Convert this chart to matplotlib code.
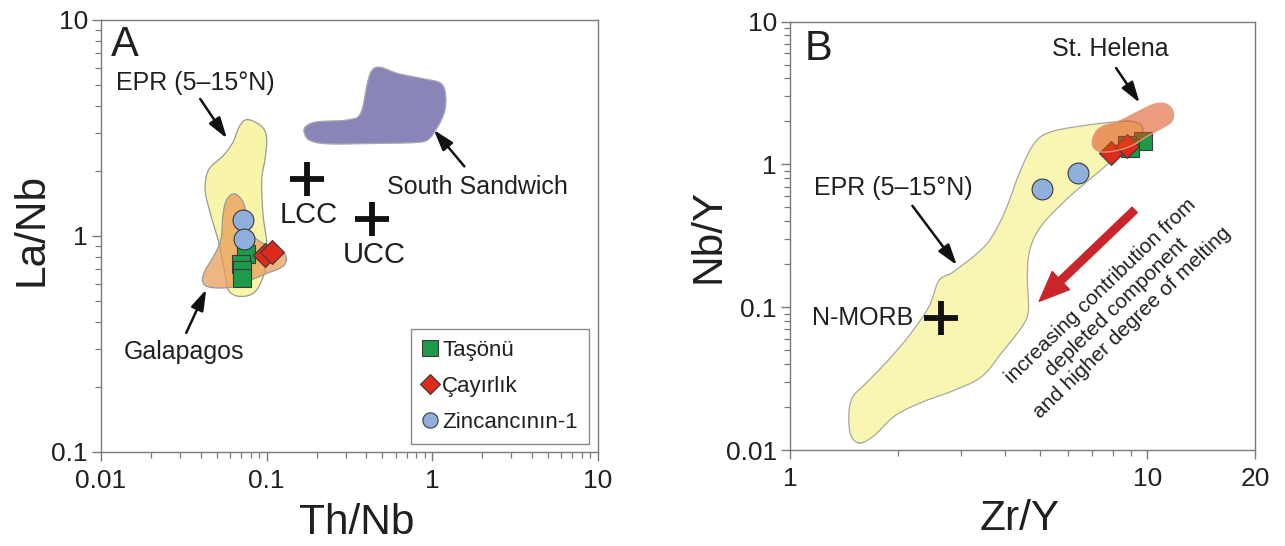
import numpy as np
import matplotlib
matplotlib.use("Agg")
import matplotlib.pyplot as plt
from matplotlib.lines import Line2D
from matplotlib.ticker import FixedLocator, FixedFormatter, NullFormatter

plt.rcParams['font.family'] = ['Liberation Sans', 'DejaVu Sans']

# ---------------- data: panel A (Th/Nb vs La/Nb) ----------------
tasonu_thnb = [0.0747, 0.0703, 0.0709, 0.0709]
tasonu_lanb = [0.826, 0.742, 0.697, 0.641]
cayirlik_thnb = [0.098, 0.108]
cayirlik_lanb = [0.817, 0.845]
zinc_thnb = [0.0716, 0.0733]
zinc_lanb = [1.18, 0.966]

crust_names = ["LCC", "UCC"]
crust_thnb = [0.176, 0.43]
crust_lanb = [1.84, 1.20]

# field outlines as (log10 Th/Nb, log10 La/Nb)
epr_a_log = [(-1.116, 0.539), (-1.030, 0.507), (-1.000, 0.451), (-1.010, 0.355),
             (-1.030, 0.258), (-1.022, 0.098), (-1.000, -0.031), (-1.010, -0.159),
             (-1.067, -0.256), (-1.153, -0.280), (-1.227, -0.256), (-1.252, -0.175),
             (-1.289, -0.031), (-1.338, 0.098), (-1.371, 0.210), (-1.351, 0.306),
             (-1.264, 0.370), (-1.203, 0.435), (-1.165, 0.507)]
galapagos_a_log = [(-1.190, 0.194), (-1.136, 0.146), (-1.111, 0.033), (-1.030, -0.031),
                   (-0.918, -0.063), (-0.881, -0.103), (-0.906, -0.143), (-1.005, -0.175),
                   (-1.128, -0.215), (-1.227, -0.239), (-1.351, -0.236), (-1.388, -0.207),
                   (-1.371, -0.159), (-1.321, -0.095), (-1.276, -0.015), (-1.264, 0.098),
                   (-1.240, 0.170)]
ssandwich_a_log = [(-0.766, 0.506), (-0.695, 0.529), (-0.514, 0.537), (-0.433, 0.568),
                   (-0.393, 0.707), (-0.362, 0.769), (-0.312, 0.781), (-0.211, 0.753),
                   (-0.070, 0.730), (0.051, 0.707), (0.081, 0.645), (0.071, 0.568),
                   (0.021, 0.491), (-0.030, 0.444), (-0.111, 0.432), (-0.312, 0.429),
                   (-0.615, 0.426), (-0.736, 0.441), (-0.772, 0.475)]

# ---------------- data: panel B (Zr/Y vs Nb/Y) ----------------
tasonu_zry = [9.72, 8.74, 8.95]
tasonu_nby = [1.47, 1.37, 1.30]
cayirlik_zry = [7.93, 8.79]
cayirlik_nby = [1.20, 1.35]
zinc_zry = [5.06, 6.40]
zinc_nby = [0.67, 0.875]

nmorb_zry = [2.64]
nmorb_nby = [0.0838]

# field outlines as (log10 Zr/Y, log10 Nb/Y)
epr_b_log = [(0.194, -1.951), (0.169, -1.890), (0.165, -1.731), (0.177, -1.622),
             (0.211, -1.536), (0.268, -1.389), (0.331, -1.206), (0.388, -0.999),
             (0.416, -0.815), (0.456, -0.754), (0.525, -0.620), (0.564, -0.510),
             (0.604, -0.314), (0.644, -0.046), (0.684, 0.150), (0.730, 0.228),
             (0.821, 0.272), (0.901, 0.296), (0.958, 0.301), (0.986, 0.260),
             (0.975, 0.186), (0.924, 0.076), (0.855, -0.070), (0.775, -0.241),
             (0.701, -0.437), (0.670, -0.608), (0.664, -0.803), (0.667, -1.023),
             (0.650, -1.133), (0.593, -1.316), (0.536, -1.487), (0.456, -1.585),
             (0.376, -1.658), (0.296, -1.756), (0.234, -1.902)]
sthelena_b_log = [(0.846, 0.136), (0.853, 0.218), (0.876, 0.269), (0.923, 0.306),
                  (0.979, 0.376), (1.020, 0.423), (1.053, 0.423), (1.072, 0.369),
                  (1.067, 0.299), (1.034, 0.246), (0.997, 0.194), (0.960, 0.136),
                  (0.913, 0.096), (0.867, 0.089)]

TXT = '#231f20'
GREEN = '#1d9a4a'
RED = '#dd2a1e'
BLUE = '#8fb0dc'
EDGE = '#3a3a3a'


def smooth_closed(pts, n=14):
    P = np.asarray(pts, dtype=float)
    N = len(P)
    out = []
    for i in range(N):
        p0, p1, p2, p3 = P[(i - 1) % N], P[i], P[(i + 1) % N], P[(i + 2) % N]
        for t in np.linspace(0, 1, n, endpoint=False):
            t2, t3 = t * t, t * t * t
            out.append(0.5 * (2 * p1 + (-p0 + p2) * t
                              + (2 * p0 - 5 * p1 + 4 * p2 - p3) * t2
                              + (-p0 + 3 * p1 - 3 * p2 + p3) * t3))
    return 10 ** np.array(out)


def field(ax, pts_log, fc, ec='#9a9a9a', alpha=1.0, z=1):
    s = smooth_closed(pts_log)
    ax.fill(s[:, 0], s[:, 1], facecolor=fc, edgecolor='none', alpha=alpha, zorder=z)
    ax.plot(np.append(s[:, 0], s[0, 0]), np.append(s[:, 1], s[0, 1]),
            color=ec, lw=0.9, zorder=z)


def style_axes(ax):
    for sp in ax.spines.values():
        sp.set_color('#7a7a7a')
        sp.set_linewidth(1.0)
    ax.tick_params(which='major', direction='out', length=6.5, width=1.0,
                   color='#7a7a7a', labelcolor=TXT, labelsize=19)
    ax.tick_params(which='minor', direction='out', length=4.5, width=0.9,
                   color='#7a7a7a')
    ax.tick_params(axis='x', which='major', pad=6)
    ax.tick_params(axis='y', which='major', pad=3)


def set_labels(ax, xl, yl, xpos, ypos):
    ax.set_xlabel(xl, fontsize=30.5, color=TXT)
    ax.set_ylabel(yl, fontsize=30.5, color=TXT)
    ax.xaxis.label.set_verticalalignment('baseline')
    ax.yaxis.label.set_verticalalignment('baseline')
    ax.xaxis.set_label_coords(*xpos)
    ax.yaxis.set_label_coords(*ypos)


def arrow(ax, xy, xytext):
    ax.annotate('', xy=xy, xytext=xytext,
                arrowprops=dict(arrowstyle='-|>,head_length=0.7,head_width=0.22',
                                color='#111111', lw=1.8, mutation_scale=18,
                                shrinkA=0, shrinkB=0), zorder=6)


fig = plt.figure(figsize=(12.85, 5.46), dpi=100)

# ================= Panel A =================
axA = fig.add_axes([0.0786, 0.1722, 0.3868, 0.7912])
axA.set_xscale('log')
axA.set_yscale('log')
axA.set_xlim(0.01, 10)
axA.set_ylim(0.1, 10)

field(axA, epr_a_log, '#f8f5a8', z=1)
field(axA, galapagos_a_log, '#ea9a56', alpha=0.72, z=2)
field(axA, ssandwich_a_log, '#8a85b8', ec='#a8a8b0', z=2)

axA.plot(tasonu_thnb, tasonu_lanb, 's', ms=13, mfc=GREEN, mec=EDGE, mew=0.8, ls='none', zorder=4)
axA.plot(cayirlik_thnb, cayirlik_lanb, 'D', ms=12, mfc=RED, mec=EDGE, mew=0.8, ls='none', zorder=4)
axA.plot(zinc_thnb, zinc_lanb, 'o', ms=15, mfc=BLUE, mec=EDGE, mew=0.8, ls='none', zorder=5)
axA.plot(crust_thnb, crust_lanb, '+', ms=24, mew=4.2, color='#111111', ls='none', zorder=5)

axA.text(0.18, 1.25, crust_names[0], fontsize=21, color=TXT, ha='center', va='center')
axA.text(0.445, 0.818, crust_names[1], fontsize=21, color=TXT, ha='center', va='center')
axA.text(0.0139, 7.66, 'A', fontsize=30, color=TXT, ha='center', va='center')
axA.text(0.0371, 5.11, 'EPR (5\u201315\u00b0N)', fontsize=18, color=TXT, ha='center', va='center')
arrow(axA, (0.0575, 2.83), (0.0397, 4.31))
axA.text(0.0318, 0.290, 'Galapagos', fontsize=18, color=TXT, ha='center', va='center')
arrow(axA, (0.0432, 0.566), (0.0327, 0.356))
axA.text(1.86, 1.69, 'South Sandwich', fontsize=18, color=TXT, ha='center', va='center')
arrow(axA, (1.02, 3.10), (1.56, 2.10))

axA.xaxis.set_major_locator(FixedLocator([0.01, 0.1, 1, 10]))
axA.xaxis.set_major_formatter(FixedFormatter(['0.01', '0.1', '1', '10']))
axA.yaxis.set_major_locator(FixedLocator([0.1, 1, 10]))
axA.yaxis.set_major_formatter(FixedFormatter(['0.1', '1', '10']))
axA.xaxis.set_minor_locator(FixedLocator([m * 10.0 ** e for e in (-2, -1, 0) for m in range(2, 10)]))
axA.yaxis.set_minor_locator(FixedLocator([m * 10.0 ** e for e in (-1, 0) for m in range(2, 10)]))
axA.xaxis.set_minor_formatter(NullFormatter())
axA.yaxis.set_minor_formatter(NullFormatter())
style_axes(axA)
set_labels(axA, 'Th/Nb', 'La/Nb', (0.515, -0.19), (-0.117, 0.514))

handles = [Line2D([], [], marker='s', ls='none', ms=11, mfc=GREEN, mec=EDGE, mew=0.8),
           Line2D([], [], marker='D', ls='none', ms=10, mfc=RED, mec=EDGE, mew=0.8),
           Line2D([], [], marker='o', ls='none', ms=11, mfc=BLUE, mec=EDGE, mew=0.8)]
leg = axA.legend(handles, ['Ta\u015f\u00f6n\u00fc', '\u00c7ay\u0131rl\u0131k', 'Zincanc\u0131n\u0131n-1'],
                 loc='lower right', bbox_to_anchor=(0.982, 0.018), fontsize=16,
                 frameon=True, fancybox=False, edgecolor='#8a8a8a', framealpha=1,
                 handlelength=0.7, handletextpad=0.2, labelspacing=0.68,
                 borderpad=0.5, borderaxespad=0)
leg.get_frame().set_linewidth(1.0)
for t in leg.get_texts():
    t.set_color(TXT)

# ================= Panel B =================
axB = fig.add_axes([0.6148, 0.1758, 0.3619, 0.7846])
axB.set_xscale('log')
axB.set_yscale('log')
axB.set_xlim(1, 20)
axB.set_ylim(0.01, 10)

field(axB, epr_b_log, '#f9f6b4', ec='#a8a8a0', z=1)
axB.plot(tasonu_zry, tasonu_nby, 's', ms=13, mfc=GREEN, mec=EDGE, mew=0.8, ls='none', zorder=3)
axB.plot(cayirlik_zry, cayirlik_nby, 'D', ms=12, mfc=RED, mec=EDGE, mew=0.8, ls='none', zorder=3)
axB.plot(zinc_zry, zinc_nby, 'o', ms=15, mfc=BLUE, mec=EDGE, mew=0.8, ls='none', zorder=3)
field(axB, sthelena_b_log, '#dc4a14', ec='#e0a080', alpha=0.55, z=4)
axB.plot(nmorb_zry, nmorb_nby, '+', ms=24, mew=4.2, color='#111111', ls='none', zorder=5)

axB.text(2.21, 0.0838, 'N-MORB', fontsize=18, color=TXT, ha='right', va='center')
axB.text(1.20, 6.44, 'B', fontsize=30, color=TXT, ha='center', va='center')
axB.text(1.95, 0.68, 'EPR (5\u201315\u00b0N)', fontsize=18, color=TXT, ha='center', va='center')
arrow(axB, (2.93, 0.197), (2.20, 0.513))
axB.text(7.85, 6.44, 'St. Helena', fontsize=18, color=TXT, ha='center', va='center')
arrow(axB, (9.51, 2.70), (8.17, 4.73))

axB.annotate('', xy=(4.98, 0.110), xytext=(9.21, 0.48),
             arrowprops=dict(arrowstyle='simple,head_length=1.2,head_width=1.0,tail_width=0.3',
                             color='#c9252b', mutation_scale=18, shrinkA=0, shrinkB=0),
             zorder=5)
axB.text(8.19, 0.10, 'increasing contribution from\ndepleted component\nand higher degree of melting',
         fontsize=15, color=TXT, rotation=44, rotation_mode='anchor', ha='center', va='center',
         multialignment='center', linespacing=1.2)

axB.xaxis.set_major_locator(FixedLocator([1, 10, 20]))
axB.xaxis.set_major_formatter(FixedFormatter(['1', '10', '20']))
axB.yaxis.set_major_locator(FixedLocator([0.01, 0.1, 1, 10]))
axB.yaxis.set_major_formatter(FixedFormatter(['0.01', '0.1', '1', '10']))
axB.xaxis.set_minor_locator(FixedLocator(list(range(2, 10))))
axB.yaxis.set_minor_locator(FixedLocator([m * 10.0 ** e for e in (-2, -1, 0) for m in range(2, 10)]))
axB.xaxis.set_minor_formatter(NullFormatter())
axB.yaxis.set_minor_formatter(NullFormatter())
style_axes(axB)
set_labels(axB, 'Zr/Y', 'Nb/Y', (0.494, -0.187), (-0.151, 0.5))

fig.savefig('out.png', dpi=100)
